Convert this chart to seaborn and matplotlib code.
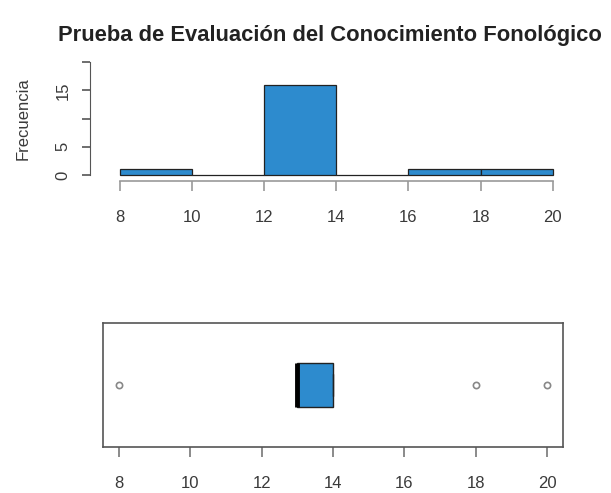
import numpy as np
import pandas as pd
import matplotlib
matplotlib.use("Agg")
import matplotlib.pyplot as plt
import seaborn as sns

# datos
bin_edges = [8, 10, 12, 14, 16, 18, 20]
bin_mids = [9, 11, 13, 15, 17, 19]
counts = [1, 0, 16, 0, 1, 1]

# puntajes individuales para el boxplot (n = 19)
scores = [8] + [13] * 9 + [14] * 7 + [18, 20]

x_ticks = [8, 10, 12, 14, 16, 18, 20]
y_ticks = [0, 5, 10, 15, 20]
y_labels = ["0", "5", "", "15", ""]

title = "Prueba de Evaluación del Conocimiento Fonológico"
ylab = "Frecuencia"

blue = "#2D8BCE"
txt = "#3a3a3a"

sns.set_style("white")
plt.rcParams['font.family'] = ['Liberation Sans', 'DejaVu Sans']

fig = plt.figure(figsize=(6.11, 4.93), dpi=100)

# histograma
ax1 = fig.add_axes([0.168, 0.636, 0.765, 0.247])
sns.histplot(x=bin_mids, weights=counts, bins=bin_edges, color=blue,
             edgecolor="#222222", linewidth=0.9, alpha=1, ax=ax1)
ax1.set_xlim(7.52, 20.48)
ax1.set_ylim(-0.8, 20.8)
ax1.set_xticks(x_ticks)
ax1.set_xticklabels([str(t) for t in x_ticks])
ax1.set_yticks(y_ticks)
ax1.set_yticklabels(y_labels)
ax1.set_xlabel("")
ax1.set_ylabel(ylab, fontsize=12, color=txt, labelpad=18)
ax1.set_title(title, fontsize=15.8, fontweight="bold", color="#222222", pad=12, x=0.486)
for s in ["top", "right"]:
    ax1.spines[s].set_visible(False)
ax1.spines["left"].set_bounds(0, 20)
ax1.spines["left"].set_position(("outward", 9))
ax1.spines["bottom"].set_bounds(8, 20)
ax1.spines["bottom"].set_position(("outward", 1))
ax1.spines["left"].set_color("#555555")
ax1.spines["bottom"].set_color("#999999")
ax1.spines["bottom"].set_linewidth(1.2)
ax1.tick_params(axis="x", bottom=True, length=7, width=1.2, colors="#999999",
                labelcolor=txt, labelsize=12, pad=14)
ax1.tick_params(axis="y", left=True, length=6, width=1.2, colors="#555555",
                labelcolor=txt, labelsize=12, labelrotation=90, pad=8)
for lab in ax1.get_yticklabels():
    lab.set_verticalalignment("center")

# boxplot
ax2 = fig.add_axes([0.1686, 0.0933, 0.7529, 0.2515])
sns.boxplot(x=scores, ax=ax2, color=blue, saturation=1, width=0.36,
            linecolor="#222222", linewidth=1,
            medianprops=dict(color="black", linewidth=3.5),
            flierprops=dict(marker="o", markersize=4.5, markerfacecolor="none",
                            markeredgecolor="#888888", markeredgewidth=1.2))
ax2.set_xlim(7.55, 20.45)
ax2.set_xticks(x_ticks)
ax2.set_xticklabels([str(t) for t in x_ticks])
ax2.set_yticks([])
for s in ax2.spines.values():
    s.set_visible(True)
    s.set_color("#555555")
    s.set_linewidth(1.2)
ax2.tick_params(axis="x", bottom=True, length=7, width=1.2, colors="#777777",
                labelcolor=txt, labelsize=12, pad=14)

fig.savefig("out.png", dpi=100)
